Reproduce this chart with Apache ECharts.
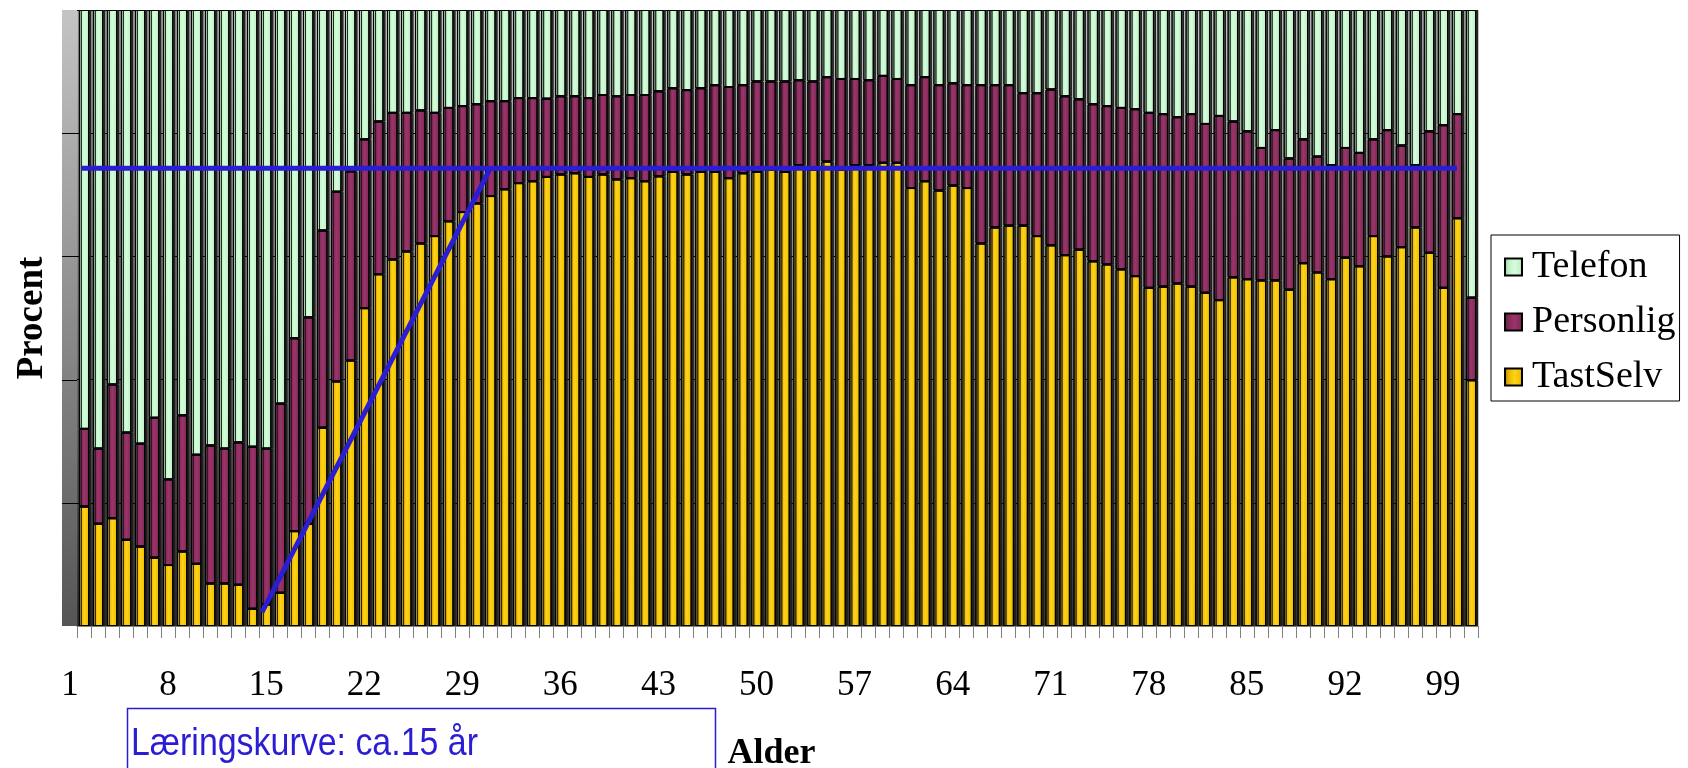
<!DOCTYPE html>
<html><head><meta charset="utf-8">
<script src="https://cdn.jsdelivr.net/npm/echarts@6/dist/echarts.min.js"></script>
<style>html,body{margin:0;padding:0;background:#fff}#c{width:1688px;height:768px}</style>
</head><body><div id="c"></div>
<script>
const ages = ['1','2','3','4','5','6','7','8','9','10','11','12','13','14','15','16','17','18','19','20',
'21','22','23','24','25','26','27','28','29','30','31','32','33','34','35','36','37','38','39','40',
'41','42','43','44','45','46','47','48','49','50','51','52','53','54','55','56','57','58','59','60',
'61','62','63','64','65','66','67','68','69','70','71','72','73','74','75','76','77','78','79','80',
'81','82','83','84','85','86','87','88','89','90','91','92','93','94','95','96','97','98','99','100'];

const tastSelv = [19.4,16.6,17.5,14.0,12.9,11.1,9.9,12.1,10.1,6.9,6.9,6.7,2.8,3.5,5.4,15.4,16.6,32.2,39.7,43.1,
51.6,57.1,59.5,60.8,62.1,63.3,65.7,67.2,68.6,69.8,70.9,71.9,72.2,72.9,73.3,73.5,72.9,73.3,72.5,72.7,
72.2,73.0,73.7,73.3,73.7,73.7,72.7,73.5,73.7,74.1,73.7,74.8,74.1,75.4,74.1,74.8,74.8,75.2,75.2,71.1,
72.2,70.7,71.5,71.1,62.1,64.7,65.0,65.0,63.3,61.8,60.2,61.1,59.2,58.7,57.9,56.8,54.9,55.1,55.6,55.1,
54.1,52.9,56.6,56.3,56.1,56.1,54.6,58.9,57.4,56.3,59.8,58.4,63.3,60.0,61.5,64.7,60.6,54.9,66.2,39.9];

const personlig = [12.6,12.2,21.7,17.4,16.7,22.7,13.9,22.1,17.7,22.4,21.9,23.1,26.3,25.3,30.7,31.3,33.5,32.0,30.8,30.7,
27.4,24.8,23.8,22.5,21.6,20.0,18.4,17.2,16.1,15.4,14.3,13.8,13.5,12.7,12.7,12.5,12.8,12.9,13.5,13.5,
14.0,13.8,13.6,13.7,13.6,14.1,14.8,14.3,14.7,14.3,14.7,13.8,14.3,13.7,14.7,14.0,13.8,14.1,13.6,16.7,
16.9,17.1,16.6,16.7,25.7,23.1,22.8,21.5,23.2,25.3,25.8,24.4,25.5,25.7,26.2,27.1,28.4,28.0,27.0,28.0,
27.4,29.9,25.3,24.0,21.5,24.4,21.3,20.1,18.8,18.5,17.8,18.4,15.7,20.5,16.5,10.1,19.7,26.4,16.9,13.4];

const telefon = [68.0,71.2,60.8,68.6,70.4,66.2,76.2,65.8,72.2,70.7,71.2,70.2,70.9,71.2,63.9,53.3,49.9,35.8,29.5,26.2,
21.0,18.1,16.7,16.7,16.3,16.7,15.9,15.6,15.3,14.8,14.8,14.3,14.3,14.4,14.0,14.0,14.3,13.8,14.0,13.8,
13.8,13.2,12.7,13.0,12.7,12.2,12.5,12.2,11.6,11.6,11.6,11.4,11.6,10.9,11.2,11.2,11.4,10.7,11.2,12.2,
10.9,12.2,11.9,12.2,12.2,12.2,12.2,13.5,13.5,12.9,14.0,14.5,15.3,15.6,15.9,16.1,16.7,16.9,17.4,16.9,
18.5,17.2,18.1,19.7,22.4,19.5,24.1,21.0,23.8,25.2,22.4,23.2,21.0,19.5,22.0,25.2,19.7,18.7,16.9,46.7];

// annotation lines: [age position, percent]
const learningLine = [[13.7, 2.2], [30.0, 74.3]];
const plateauLine = [[0.8, 74.3], [99.0, 74.3]];
const yTicks = [20, 40, 60, 80];

function hgrad(stops) {
  return {type:'linear', x:0, y:0, x2:1, y2:0,
    colorStops: stops.map(s => ({offset:s[0], color:s[1]}))};
}
const yellow = hgrad([[0,'#a67e00'],[0.25,'#e8b800'],[0.55,'#ffd31a'],[0.85,'#f2c200'],[1,'#9a7400']]);
const purple = hgrad([[0,'#5c1a3d'],[0.25,'#84295a'],[0.55,'#9a3569'],[0.85,'#86295b'],[1,'#561838']]);
const green  = hgrad([[0,'#8cc894'],[0.25,'#bdf3c5'],[0.55,'#d6fcdc'],[0.85,'#c0f3c8'],[1,'#86bd8e']]);

const barBase = {type:'bar', stack:'s', barCategoryGap:'26%', silent:true};
function barStyle(c){ return {color:c, borderColor:'#000', borderWidth:1,
  shadowColor:'rgba(30,30,30,0.85)', shadowOffsetX:2, shadowOffsetY:0, shadowBlur:0}; }

const serif = 'Liberation Serif, Times New Roman, serif';
const chart = echarts.init(document.getElementById('c'), null, {renderer:'canvas'});
const option = {
  animation:false,
  backgroundColor:'#fff',
  grid:{left:77, right:210, top:10, bottom:142, show:true, borderWidth:0,
    outerBoundsMode:'none', containLabel:false,
    backgroundColor:{type:'linear', x:0, y:0, x2:0, y2:1,
      colorStops:[{offset:0,color:'#c0c0c0'},{offset:1,color:'#333333'}]}},
  legend:{orient:'vertical', left:1491, top:235, padding:[12,4,4,13], itemGap:15,
    itemWidth:17, itemHeight:17, icon:'rect', backgroundColor:'#fff', borderColor:'#000', borderWidth:1,
    textStyle:{fontFamily:serif, fontSize:38, color:'#000', lineHeight:40, padding:[0,0,0,5]},
    data:['Telefon','Personlig','TastSelv']},
  xAxis:[{type:'category', data:ages, boundaryGap:true,
    axisLine:{show:true, lineStyle:{color:'#808080', width:1}},
    axisTick:{show:true, interval:0, length:12, lineStyle:{color:'#808080'}},
    axisLabel:{interval:6, fontFamily:serif, fontSize:35, color:'#000', margin:42, padding:[0,28,0,0]},
    splitLine:{show:false},
    name:'Alder', nameLocation:'middle', nameGap:110,
    nameTextStyle:{fontFamily:serif, fontWeight:'bold', fontSize:36, color:'#000', padding:[0,12,0,0]}},
   {type:'value', min:0.5, max:100.5, show:false}],
  yAxis:{type:'value', min:0, max:100, interval:20,
    axisLabel:{show:false}, axisTick:{show:false}, axisLine:{show:false},
    splitLine:{show:true, lineStyle:{color:'#000', width:1}},
    name:'Procent', nameLocation:'middle', nameGap:26, nameRotate:90,
    nameTextStyle:{fontFamily:serif, fontWeight:'bold', fontSize:37, color:'#000'}},
  series:[
    Object.assign({name:'TastSelv', data:tastSelv, itemStyle:barStyle(yellow)}, barBase),
    Object.assign({name:'Personlig', data:personlig, itemStyle:barStyle(purple)}, barBase),
    Object.assign({name:'Telefon', data:telefon, itemStyle:barStyle(green)}, barBase),
    {type:'line', xAxisIndex:1, data:learningLine, symbol:'none', silent:true, z:5,
      lineStyle:{color:'#2B1DD3', width:5}},
    {type:'line', xAxisIndex:1, data:plateauLine, symbol:'none', silent:true, z:5,
      lineStyle:{color:'#2B1DD3', width:5}}
  ]
};
chart.setOption(option);

// decorative left wall and the note box
const top0 = chart.convertToPixel({yAxisIndex:0}, 100);
const bot0 = chart.convertToPixel({yAxisIndex:0}, 0);
const wallX = 62, wallW = 15;
const gfx = [{type:'rect', shape:{x:wallX, y:top0, width:wallW, height:bot0-top0},
  style:{fill:{type:'linear', x:0, y:0, x2:0, y2:1,
    colorStops:[{offset:0,color:'#c4c4c4'},{offset:1,color:'#555555'}]}}, z:1}];
yTicks.forEach(v => {
  const py = Math.round(chart.convertToPixel({yAxisIndex:0}, v)) + 0.5;
  gfx.push({type:'line', shape:{x1:wallX, y1:py, x2:wallX+wallW, y2:py},
    style:{stroke:'#000', lineWidth:1}, z:2});
});
gfx.push({type:'rect', shape:{x:127.5, y:708.5, width:588, height:90},
  style:{fill:null, stroke:'#2B1DD3', lineWidth:1.5}, z:3});
gfx.push({type:'text', x:131, y:744, scaleX:0.87, originX:0, originY:0,
  style:{text:'Læringskurve: ca.15 år', fill:'#2B1DD3',
    font:'39px "Liberation Sans", Arial, sans-serif', textVerticalAlign:'middle'}, z:3});
chart.setOption({graphic:gfx});
</script>
</body></html>
